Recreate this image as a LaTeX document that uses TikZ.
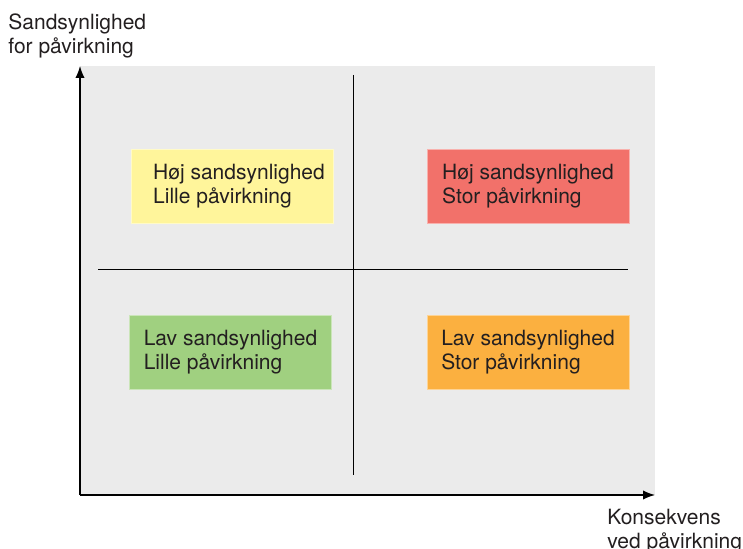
\documentclass[tikz,border=0pt]{standalone}
\usepackage{fontspec}
\setmainfont{TeX Gyre Heros}
\usetikzlibrary{arrows.meta}
\definecolor{bggray}{HTML}{EBEBEB}
\definecolor{txtgray}{HTML}{231F20}
\definecolor{hojlille}{HTML}{FFF59B}
\definecolor{hojstor}{HTML}{F2716A}
\definecolor{lavlille}{HTML}{A0D080}
\definecolor{lavstor}{HTML}{FBB040}
\begin{document}
\begin{tikzpicture}[x=0.5pt,y=-0.5pt,
        >={Latex[length=6pt,width=4.6pt]},
        every node/.style={font=\fontsize{10.5}{12}\selectfont,text=txtgray},
        quad/.style={fill=#1,draw=#1!55!white,line width=0.4pt,
            minimum width=101pt,minimum height=37pt,inner sep=0pt},
        quadtext/.style={align=left,inner sep=0pt}]
    \useasboundingbox (0,0) rectangle (743,549);
    \fill[bggray] (80,66) rectangle (655,495);

    \coordinate (origin) at (80,495);
    \coordinate (ytip) at (80,66);
    \coordinate (xtip) at (655,495);
    \draw[->, line width=0.6pt] (origin) -- (ytip);
    \draw[->, line width=0.6pt] (origin) -- (xtip);
    \node[anchor=west, align=left, inner sep=0pt] (ylabel) at (8,36) {Sandsynlighed\\for påvirkning};
    \node[anchor=west, align=left, inner sep=0pt] (xlabel) at (607,531) {Konsekvens\\ved påvirkning};

    \coordinate (vtop) at (353,75);
    \coordinate (vbot) at (353,475);
    \coordinate (hleft) at (98,270);
    \coordinate (hright) at (628,270);
    \draw[line width=0.5pt] (vtop) -- (vbot);
    \draw[line width=0.5pt] (hleft) -- (hright);

    \node[quad=hojlille] (hl) at (232,186) {};
    \node[quadtext] (hltext) at ([xshift=3.5pt]hl.center) {Høj sandsynlighed\\Lille påvirkning};
    \node[quad=hojstor] (hs) at (528,186) {};
    \node[quadtext] (hstext) at (hs.center) {Høj sandsynlighed\\Stor påvirkning};
    \node[quad=lavlille] (ll) at (230.5,352) {};
    \node[quadtext] (lltext) at (ll.center) {Lav sandsynlighed\\Lille påvirkning};
    \node[quad=lavstor] (ls) at (528,352) {};
    \node[quadtext] (lstext) at (ls.center) {Lav sandsynlighed\\Stor påvirkning};
\end{tikzpicture}
\end{document}
